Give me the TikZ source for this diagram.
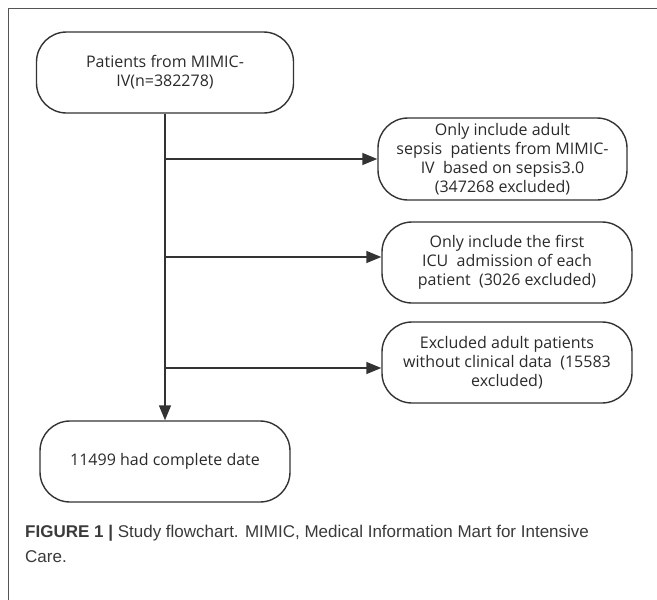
\documentclass[tikz,border=0pt]{standalone}
\usepackage{fontspec}
\setmainfont{Open Sans}
\newfontfamily\capfont{Liberation Sans}
\usetikzlibrary{arrows.meta}
\definecolor{linec}{HTML}{333333}
\definecolor{textc}{HTML}{2A2A2A}
\definecolor{capc}{HTML}{3A3A3A}
\definecolor{framec}{HTML}{555555}
\begin{document}
\begin{tikzpicture}[x=1pt,y=-1pt,
  box/.style={draw=linec, line width=1.4pt, rounded corners=30pt, align=center,
    font=\fontsize{16}{19}\selectfont, text=textc, inner sep=0pt},
  conn/.style={draw=linec, line width=1.4pt},
  arr/.style={conn, -{Triangle[length=15pt,width=12pt]}}]
\useasboundingbox (0,0) rectangle (657,600);
\draw[framec, line width=1pt] (8,600) -- (8,8) -- (657,8);

\node[box, minimum width=257pt, minimum height=81pt] (top) at (165,72.5) {Patients from MIMIC-\\IV(n=382278)};
\node[box, minimum width=250pt, minimum height=81pt] (bot) at (165,461.5) {11499 had complete date};

\node[box, minimum width=249pt, minimum height=82pt] (r1) at (502.5,159) {Only include adult\\sepsis\ \ patients from MIMIC-\\IV\ \ based on sepsis3.0\\(347268 excluded)};
\node[box, minimum width=250pt, minimum height=81pt] (r2) at (507,262.5) {Only include the first\\ICU\ \ admission of each\\patient\ \ (3026 excluded)};
\node[box, minimum width=250pt, minimum height=81pt] (r3) at (507,362.5) {Excluded adult patients\\without clinical data\ \ (15583\\excluded)};

\coordinate (b1) at (165,159);
\coordinate (b2) at (165,257);
\coordinate (b3) at (165,368);

\draw[arr] (top.south) -- (bot.north);
\draw[arr] (b1) -- (b1 -| r1.west);
\draw[arr] (b2) -- (b2 -| r2.west);
\draw[arr] (b3) -- (b3 -| r3.west);

\node[anchor=base west, inner sep=0pt, align=left, text=capc,
  font=\capfont\fontsize{17}{25}\selectfont] (cap) at (25,562)
  {\textbf{FIGURE 1 |} Study flowchart. MIMIC, Medical Information Mart for Intensive\\Care.};
\end{tikzpicture}
\end{document}
